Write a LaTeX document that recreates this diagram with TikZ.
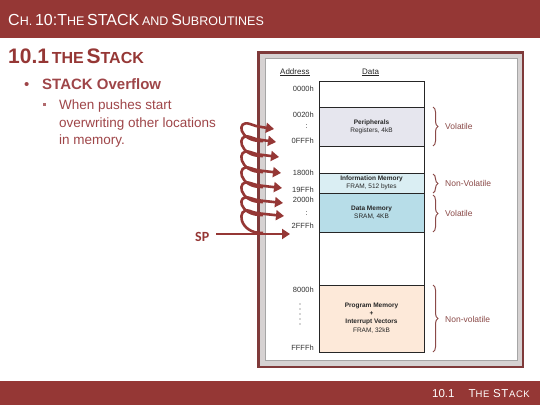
\documentclass[tikz,border=0pt]{standalone}
\usepackage{fontspec}
\setmainfont{Liberation Sans}
\newfontfamily\calibri{Carlito}
\usetikzlibrary{decorations.pathreplacing,arrows.meta}
\definecolor{maroon}{HTML}{953735}
\definecolor{txtred}{HTML}{9E4548}
\definecolor{perif}{HTML}{E6E6EE}
\definecolor{infom}{HTML}{DAEEF3}
\definecolor{datam}{HTML}{B7DDE8}
\definecolor{progm}{HTML}{FDE9D9}
\definecolor{bracec}{HTML}{8B4A48}
\definecolor{framered}{HTML}{7F3A3A}
\definecolor{frameband}{HTML}{D6D2D2}
\newcommand\fs[2]{{\fontsize{#1}{#1}\selectfont #2}}
\tikzset{
  txt/.style={inner sep=0pt, anchor=base west},
  subtxt/.style={txt, text=txtred, font=\fontsize{13.5}{17}\selectfont},
  addr/.style={inner sep=0pt, anchor=base east, font=\fontsize{7.5}{8}\selectfont, text=black!80},
  memtxt/.style={inner sep=0pt, align=center, font=\fontsize{6.5}{8}\selectfont, text=black!85},
  memrow/.style={draw=black!85, line width=0.8pt},
  brc/.style={draw=bracec, line width=1pt, decorate, decoration={brace, amplitude=5pt}},
  brlab/.style={inner sep=0pt, anchor=west, font=\fontsize{8.5}{9}\selectfont, text=bracec},
  coil/.style={draw=maroon, line width=2.6pt, -{Triangle[length=8pt,width=10pt]}},
}
\begin{document}
\begin{tikzpicture}[x=1pt,y=-1pt]
\useasboundingbox (0,0) rectangle (540,405);
% header and footer
\fill[maroon] (0,0) rectangle (540,38);
\fill[maroon] (0,381) rectangle (540,405);
\node[txt, text=white] (title) at (8,25) {\fs{16}{C}\fs{12.5}{H.} \fs{16}{10:T}\fs{12.5}{HE} \fs{16}{STACK} \fs{12.5}{AND} \fs{16}{S}\fs{12.5}{UBROUTINES}};
\node[txt, text=white] (foot) at (432,397) {\fs{11.5}{10.1}\hspace{14pt}\fs{11.5}{T}\fs{9.5}{H\hspace{0.6pt}E}\hspace{1pt} \fs{11.5}{S\hspace{0.6pt}T}\hspace{0.6pt}\fs{9.5}{A\hspace{0.6pt}C\hspace{0.6pt}K}};
% section title
\node[txt, text=maroon, font=\bfseries] (sec) at (8,63) {\fs{21}{10.1} \fs{16}{THE} \fs{21}{S}\fs{16}{TACK}};
% bullets
\node[txt, text=txtred, font=\fontsize{15}{15}\selectfont] (b1) at (24,89) {\textbullet};
\node[txt, text=txtred, font=\bfseries\fontsize{15}{15}\selectfont] (t1) at (42,89) {STACK Overflow};
\fill[txtred!80] (42.5,103) rectangle (45.5,106);
\node[subtxt] (t2) at (59,109) {When pushes start};
\node[subtxt] (t3) at (59,127) {overwriting other locations};
\node[subtxt] (t4) at (59,144) {in memory.};
% frame
\fill[framered] (257,51) rectangle (524,368);
\fill[frameband] (259.5,53.5) rectangle (521.5,365.5);
\filldraw[fill=white, draw=black!35, line width=0.6pt] (265,58) rectangle (517,360);
% headings
\node[txt, font=\fontsize{8}{8}\selectfont, text=black!85] (haddr) at (280,74) {\underline{Address}};
\node[txt, font=\fontsize{8}{8}\selectfont, text=black!85] (hdata) at (362,74) {\underline{Data}};
% memory column
\filldraw[memrow, fill=white] (319,81) rectangle (424,107);
\filldraw[memrow, fill=perif] (319,107) rectangle (424,146);
\filldraw[memrow, fill=white] (319,146) rectangle (424,173);
\filldraw[memrow, fill=infom] (319,173) rectangle (424,193);
\filldraw[memrow, fill=datam] (319,193) rectangle (424,232);
\filldraw[memrow, fill=white] (319,232) rectangle (424,285);
\filldraw[memrow, fill=progm] (319,285) rectangle (424,352);
\node[memtxt] (per) at (371.5,127) {\textbf{Peripherals}\\Registers, 4kB};
\node[memtxt] (inf) at (371.5,183) {\textbf{Information Memory}\\FRAM, 512 bytes};
\node[memtxt] (dat) at (371.5,212.5) {\textbf{Data Memory}\\SRAM, 4KB};
\node[memtxt, font=\fontsize{6.5}{8.3}\selectfont] (prg) at (371.5,318) {\textbf{Program Memory}\\\textbf{+}\\\textbf{Interrupt Vectors}\\FRAM, 32kB};
% addresses
\node[addr] (a0) at (314,91) {0000h};
\node[addr] (a1) at (314,117) {0020h};
\node[addr] (a1c) at (308,128) {:};
\node[addr] (a2) at (314,143) {0FFFh};
\node[addr] (a3) at (314,175) {1800h};
\node[addr] (a4) at (314,192) {19FFh};
\node[addr] (a5) at (314,202) {2000h};
\node[addr] (a5c) at (308,215) {:};
\node[addr] (a6) at (314,228) {2FFFh};
\node[addr] (a7) at (314,292) {8000h};
\foreach \yy in {304,309,314,319,324} \fill[black!70] (300,\yy) circle (0.55pt);
\node[addr] (a8) at (314,350) {FFFFh};
% braces
\draw[brc] (433,107) -- (433,146);
\node[brlab] (v1) at (445,126) {Volatile};
\draw[brc] (433,174) -- (433,193);
\node[brlab] (v2) at (445,183) {Non-Volatile};
\draw[brc] (433,195) -- (433,232);
\node[brlab] (v3) at (445,213.5) {Volatile};
\draw[brc] (433,285) -- (433,352);
\node[brlab] (v4) at (445,319.5) {Non-volatile};
% SP and coil
\node[inner sep=0pt, anchor=base west, text=maroon, font=\calibri\bfseries\fontsize{14}{14}\selectfont] (sp) at (195,241) {SP};
\coordinate (spend) at (290,234);
\draw[coil] (sp.east |- spend) ++(7,0) -- (spend);
\foreach \ylo/\yhi/\xt in {234/216/284, 216/203/283, 203/188/282, 188/173/281, 173/157/279, 157/142/276, 142/129/274} {
  \draw[coil] (263,\ylo-1) .. controls (238,\ylo) and (236,\yhi-10) .. (250,\yhi-5) .. controls (255,\yhi-3) .. (\xt,\yhi);
}
\end{tikzpicture}
\end{document}
